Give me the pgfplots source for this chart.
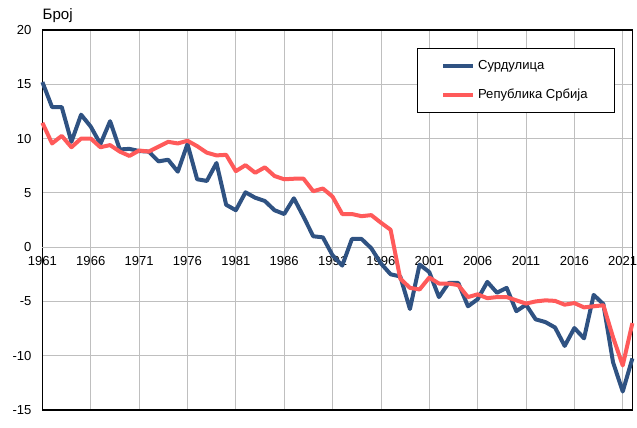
\documentclass[border=0pt]{standalone}
\usepackage{fontspec}
\setmainfont{Liberation Sans}
\usepackage{pgfplots}
\pgfplotsset{compat=1.18}
\definecolor{cblue}{RGB}{47,82,130}
\definecolor{cred}{RGB}{255,90,90}
\begin{document}
\fontsize{9.8pt}{11.8pt}\selectfont
\begin{tikzpicture}
\begin{axis}[
  scale only axis,
  width=442.5pt, height=285pt,
  xmin=1961, xmax=2022, ymin=-15, ymax=20,
  xtick={1961,1966,...,2021},
  ytick={-15,-10,...,20},
  major tick length=0pt,
  grid=major,
  major grid style={draw=black!25, line width=0.6pt},
  axis line style={draw=black, line width=0.8pt},
  extra y ticks={0},
  extra y tick labels={},
  extra y tick style={grid style={draw=black!65, line width=0.9pt}},
  /pgf/number format/assume math mode=true,
  xticklabel style={/pgf/number format/1000 sep={}, anchor=north, inner sep=0pt, yshift=115.6pt},
  yticklabel style={inner sep=0pt, xshift=-8pt},
  tick label style={font=\fontsize{9.8pt}{11.8pt}\selectfont},
  legend style={at={(rel axis cs:0.970,0.9526)}, anchor=north east,
    draw=black, line width=0.6pt, inner xsep=18pt, inner ysep=7pt,
    row sep=9pt, font=\fontsize{9.8pt}{11.8pt}\selectfont,
    nodes={inner sep=2pt}},
  legend cell align=left,
  legend image code/.code={\draw[#1, line width=3pt] (0pt,0pt) -- (22.5pt,0pt);},
  clip=false,
]
\addplot[cblue, line width=3pt, line join=round] coordinates {
(1961,15.2) (1962,12.9) (1963,12.9) (1964,9.7) (1965,12.2) (1966,11.1) (1967,9.5) (1968,11.6) (1969,9.0) (1970,9.05)
(1971,8.85) (1972,8.8) (1973,7.9) (1974,8.05) (1975,6.95) (1976,9.5) (1977,6.25) (1978,6.1) (1979,7.75) (1980,3.9)
(1981,3.4) (1982,5.05) (1983,4.55) (1984,4.25) (1985,3.4) (1986,3.05) (1987,4.5) (1988,2.8) (1989,1.0) (1990,0.9)
(1991,-0.75) (1992,-1.7) (1993,0.75) (1994,0.75) (1995,-0.1) (1996,-1.5) (1997,-2.5) (1998,-2.7) (1999,-5.7) (2000,-1.6)
(2001,-2.3) (2002,-4.6) (2003,-3.3) (2004,-3.3) (2005,-5.45) (2006,-4.8) (2007,-3.2) (2008,-4.2) (2009,-3.75) (2010,-5.9)
(2011,-5.3) (2012,-6.65) (2013,-6.9) (2014,-7.4) (2015,-9.1) (2016,-7.45) (2017,-8.4) (2018,-4.4) (2019,-5.25) (2020,-10.6)
(2021,-13.3) (2022,-10.25)
};
\addlegendentry{Сурдулица}
\addplot[cred, line width=3pt, line join=round] coordinates {
(1961,11.45) (1962,9.55) (1963,10.25) (1964,9.2) (1965,10.0) (1966,10.0) (1967,9.2) (1968,9.4) (1969,8.8) (1970,8.4)
(1971,8.9) (1972,8.8) (1973,9.25) (1974,9.7) (1975,9.55) (1976,9.8) (1977,9.3) (1978,8.7) (1979,8.45) (1980,8.5)
(1981,7.0) (1982,7.55) (1983,6.85) (1984,7.35) (1985,6.55) (1986,6.25) (1987,6.3) (1988,6.3) (1989,5.15) (1990,5.4)
(1991,4.65) (1992,3.05) (1993,3.05) (1994,2.85) (1995,2.95) (1996,2.25) (1997,1.6) (1998,-2.9) (1999,-3.75) (2000,-3.9)
(2001,-2.8) (2002,-3.35) (2003,-3.35) (2004,-3.5) (2005,-4.6) (2006,-4.35) (2007,-4.7) (2008,-4.6) (2009,-4.6) (2010,-4.9)
(2011,-5.2) (2012,-5.0) (2013,-4.9) (2014,-4.95) (2015,-5.3) (2016,-5.15) (2017,-5.55) (2018,-5.45) (2019,-5.35) (2020,-8.3)
(2021,-10.9) (2022,-7.0)
};
\addlegendentry{Република Србија}
\node[anchor=base west, inner sep=0pt, font=\fontsize{11.3pt}{13pt}\selectfont] at ([xshift=0pt, yshift=8pt]rel axis cs:0,1) {Број};
\end{axis}
\pgfresetboundingbox
\path (-31.8pt,-13.5pt) rectangle (445.95pt,307.5pt);
\end{tikzpicture}
\end{document}
